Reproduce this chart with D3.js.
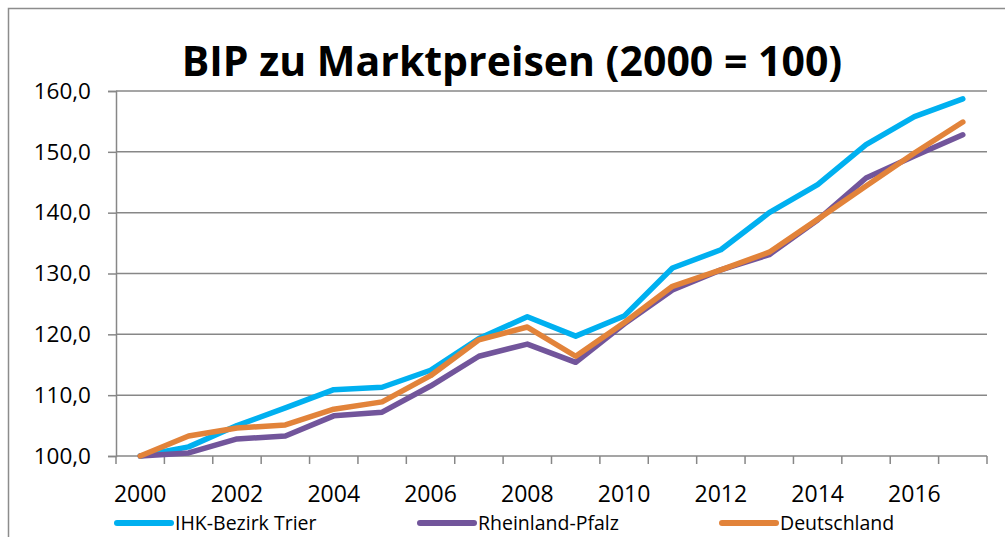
<!DOCTYPE html>
<html>
<head>
<meta charset="utf-8">
<script src="https://cdn.jsdelivr.net/npm/d3@7"></script>
<style>
  body { margin: 0; background: #fff; }
  svg { display: block; font-family: "Open Sans", "Liberation Sans", sans-serif; }
</style>
</head>
<body>
<svg id="chart" width="1005" height="537"></svg>
<script>
const years = d3.range(2000, 2018);
const yTicks = [100, 110, 120, 130, 140, 150, 160];

const trier = [100, 101.5, 105.0, 107.9, 110.9, 111.3, 114.1, 119.3, 122.9, 119.7, 123.0, 130.9, 133.9, 140.0, 144.6, 151.2, 155.8, 158.7];
const rlp = [100, 100.5, 102.8, 103.3, 106.6, 107.2, 111.5, 116.4, 118.4, 115.4, 121.7, 127.3, 130.6, 133.1, 138.8, 145.7, 149.3, 152.8];
const de = [100, 103.3, 104.6, 105.1, 107.7, 108.9, 113.2, 119.1, 121.2, 116.4, 121.9, 127.9, 130.6, 133.5, 138.9, 144.4, 149.8, 154.9];

const seriesNames = ["IHK-Bezirk Trier", "Rheinland-Pfalz", "Deutschland"];
const colors = ["#00B0F0", "#72559B", "#E2833A"];
const series = [trier, rlp, de];

const svg = d3.select("#chart");
const grey = "#878787";

// outer chart border (cut off at right/bottom like the original)
svg.append("rect")
  .attr("x", 8.5).attr("y", 8.5)
  .attr("width", 1010).attr("height", 540)
  .attr("fill", "none").attr("stroke", "#8c8c8c").attr("stroke-width", 1.5);

const plot = { left: 116, right: 987, top: 91, bottom: 456 };

const x = d3.scaleBand().domain(years).range([plot.left, plot.right]);
const y = d3.scaleLinear().domain([100, 160]).range([plot.bottom, plot.top]);

// gridlines
svg.append("g")
  .selectAll("line")
  .data(yTicks.slice(1))
  .join("line")
  .attr("x1", plot.left).attr("x2", plot.right)
  .attr("y1", d => y(d)).attr("y2", d => y(d))
  .attr("stroke", grey).attr("stroke-width", 1.5);

// y axis
const yAxis = svg.append("g")
  .attr("transform", `translate(${plot.left},0)`)
  .call(d3.axisLeft(y).tickValues(yTicks).tickSize(8).tickPadding(17)
    .tickFormat(d => d3.format(".1f")(d).replace(".", ",")));
yAxis.select(".domain").attr("stroke", grey).attr("stroke-width", 1.5);
yAxis.selectAll(".tick line").attr("stroke", grey).attr("stroke-width", 1.5);
yAxis.selectAll("text").attr("font-size", 22.5).attr("fill", "#000")
  .attr("font-family", "'Open Sans', sans-serif");

// x axis: ticks between categories, labels every second year
const xAxis = svg.append("g").attr("transform", `translate(0,${plot.bottom})`);
xAxis.append("line")
  .attr("x1", plot.left).attr("x2", plot.right)
  .attr("stroke", grey).attr("stroke-width", 1.5);
xAxis.selectAll("line.tk")
  .data(years.concat([2018]))
  .join("line").attr("class", "tk")
  .attr("x1", (d, i) => i < years.length ? x(d) : plot.right)
  .attr("x2", (d, i) => i < years.length ? x(d) : plot.right)
  .attr("y1", 0).attr("y2", 8)
  .attr("stroke", grey).attr("stroke-width", 1.5);
xAxis.selectAll("text")
  .data(years.filter(d => d % 2 === 0))
  .join("text")
  .attr("x", d => x(d) + x.bandwidth() / 2)
  .attr("y", 46)
  .attr("text-anchor", "middle")
  .attr("font-size", 23)
  .text(d => d);

// lines
const line = d3.line()
  .x((d, i) => x(years[i]) + x.bandwidth() / 2)
  .y(d => y(d));

svg.append("g")
  .selectAll("path")
  .data(series)
  .join("path")
  .attr("d", line)
  .attr("fill", "none")
  .attr("stroke", (d, i) => colors[i])
  .attr("stroke-width", 5.5)
  .attr("stroke-linejoin", "round")
  .attr("stroke-linecap", "round");

// title
svg.append("text")
  .attr("x", 512).attr("y", 76)
  .attr("text-anchor", "middle")
  .attr("font-size", 41).attr("font-weight", "bold")
  .text("BIP zu Marktpreisen (2000 = 100)");

// legend
const legendX = [117, 420, 722];
const leg = svg.append("g")
  .selectAll("g")
  .data(seriesNames)
  .join("g")
  .attr("transform", (d, i) => `translate(${legendX[i]},523)`);
leg.append("line")
  .attr("x1", 0).attr("x2", 54)
  .attr("stroke", (d, i) => colors[i])
  .attr("stroke-width", 6)
  .attr("stroke-linecap", "round");
leg.append("text")
  .attr("x", 58).attr("y", 6.5)
  .attr("font-size", 19.5)
  .text(d => d);
</script>
</body>
</html>
